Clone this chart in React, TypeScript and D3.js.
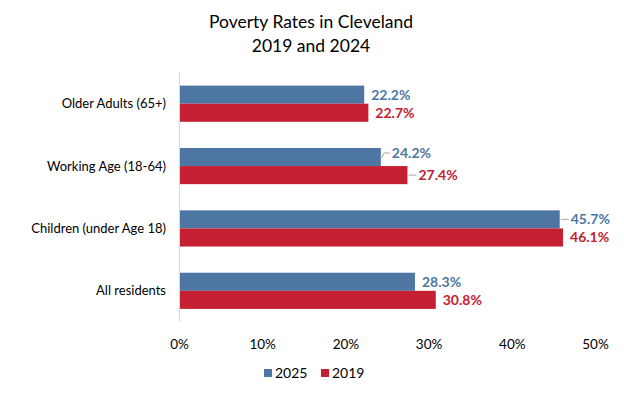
import { scaleLinear, scaleBand } from "d3";

const categories = [
  "Older Adults (65+)",
  "Working Age (18-64)",
  "Children (under Age 18)",
  "All residents",
];
const series = ["2025", "2019"];
const values2025 = [22.2, 24.2, 45.7, 28.3];
const values2019 = [22.7, 27.4, 46.1, 30.8];
const xTicks = [0, 10, 20, 30, 40, 50];
const colors = ["#4D76A3", "#C42032"];

const width = 624;
const height = 397;
const font = "Lato, 'Open Sans', sans-serif";

export default function App() {
  const x = scaleLinear().domain([0, 50]).range([179.5, 595.5]);
  const y = scaleBand<string>().domain(categories).range([72.5, 322]).paddingInner(0.42).paddingOuter(0.21);
  const inner = scaleBand<string>().domain(series).range([0, y.bandwidth()]);
  const data = [values2025, values2019];

  return (
    <svg
      width={width}
      height={height}
      style={{ position: "absolute", left: 0, top: 0, background: "#fff" }}
      fontFamily={font}
    >
      <text x={311} y={28} textAnchor="middle" fontSize={17.5} fill="#000">
        Poverty Rates in Cleveland
      </text>
      <text x={311} y={52} textAnchor="middle" fontSize={17.5} fill="#000">
        2019 and 2024
      </text>

      {categories.map((c, ci) =>
        series.map((s, si) => {
          const v = data[si][ci];
          const y0 = (y(c) ?? 0) + (inner(s) ?? 0);
          const h = inner.bandwidth();
          const xEnd = x(v);
          // labels Excel nudged sideways get a leader line
          const pushed = (si === 0 && ci >= 1 && ci <= 2) || (si === 1 && ci === 1);
          const lx = xEnd + (pushed ? 11 : 7);
          const ly = y0 + h / 2 + (si === 0 && ci === 1 ? -4 : 0);
          return (
            <g key={c + s}>
              <rect x={x(0)} y={y0} width={xEnd - x(0)} height={h} fill={colors[si]} />
              {pushed && (
                <polyline
                  points={
                    si === 0 && ci === 1
                      ? `${xEnd + 1},${y0 + h / 2 + 1} ${xEnd + 3},${ly} ${lx - 2},${ly}`
                      : `${xEnd + 1},${ly} ${lx - 2},${ly}`
                  }
                  fill="none"
                  stroke="#a6a6a6"
                  strokeWidth={1}
                />
              )}
              <text
                x={lx}
                y={ly}
                dy="0.35em"
                fontSize={14}
                fontWeight="bold"
                fill={colors[si]}
              >
                {v.toFixed(1)}%
              </text>
            </g>
          );
        })
      )}

      <line x1={x(0)} x2={x(0)} y1={72.5} y2={322} stroke="#d9d9d9" strokeWidth={1} />

      {categories.map((c) => (
        <text
          key={c}
          x={166}
          y={(y(c) ?? 0) + y.bandwidth() / 2}
          dy="0.35em"
          textAnchor="end"
          fontSize={13}
          fill="#000"
        >
          {c}
        </text>
      ))}

      {xTicks.map((t) => (
        <text key={t} x={x(t)} y={344} dy="0.35em" textAnchor="middle" fontSize={13.5} fill="#000">
          {t}%
        </text>
      ))}

      {series.map((s, i) => (
        <g key={s} transform={`translate(${264 + i * 57},369)`}>
          <rect x={0} y={0} width={8} height={8} fill={colors[i]} />
          <text x={11} y={4} dy="0.35em" fontSize={14} fill="#000">
            {s}
          </text>
        </g>
      ))}
    </svg>
  );
}
